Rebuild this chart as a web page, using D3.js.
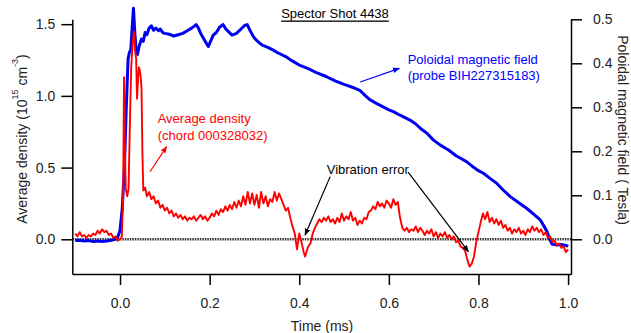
<!DOCTYPE html>
<html>
<head>
<meta charset="utf-8">
<script src="https://cdn.jsdelivr.net/npm/d3@7"></script>
<style>
  body { margin: 0; background: #fff; }
  text { font-family: "Liberation Sans", Arial, sans-serif; }
</style>
</head>
<body>
<div id="chart"></div>
<script>
// Spector shot 4438 - density (left axis) and poloidal field (right axis)

let densityTime = [-0.10,-0.095,-0.09,-0.085,-0.08,-0.075,-0.07,-0.065,-0.06,-0.055,-0.05,-0.045,-0.04,-0.035,-0.03,-0.025,-0.02,-0.015,-0.01,-0.005,
  0.0,0.004,0.007,0.009,0.011,0.013,0.016,0.019,0.022,0.025,0.028,0.031,0.034,0.036,0.038,0.040,0.042,0.044,0.046,0.048,0.050,0.052,0.056,
  0.060,0.065,0.07,0.075,0.08,0.085,0.09,0.095,0.10,0.105,0.11,0.115,0.12,0.125,0.13,0.135,0.14,0.145,0.15,0.155,0.16,0.165,0.17,0.175,
  0.18,0.185,0.19,0.195,0.20,0.205,0.21,0.215,0.22,0.225,0.23,0.235,0.24,0.245,0.25,0.255,0.26,0.265,0.27,0.275,0.28,0.285,0.29,0.295,
  0.30,0.305,0.31,0.315,0.32,0.325,0.33,0.335,0.34,0.345,0.35,0.355,0.36,0.365,0.37,0.375,0.38,0.385,0.39,0.395,0.40,0.405,0.41,0.413,
  0.417,0.42,0.425,0.43,0.435,0.44,0.445,0.45,0.455,0.46,0.465,0.47,0.475,0.48,0.485,0.49,0.495,0.50,0.505,0.51,0.515,0.52,0.525,0.53,
  0.535,0.54,0.545,0.55,0.555,0.56,0.565,0.57,0.575,0.58,0.585,0.59,0.595,0.60,0.605,0.61,0.615,0.62,0.625,0.63,0.635,0.64,0.645,0.65,
  0.655,0.66,0.665,0.67,0.675,0.68,0.685,0.69,0.695,0.70,0.705,0.71,0.715,0.72,0.725,0.73,0.735,0.74,0.745,0.75,0.755,0.76,0.765,0.77,
  0.775,0.78,0.785,0.79,0.795,0.80,0.805,0.81,0.815,0.82,0.825,0.83,0.835,0.84,0.845,0.85,0.855,0.86,0.865,0.87,0.875,0.88,0.885,0.89,
  0.895,0.90,0.905,0.91,0.915,0.92,0.925,0.93,0.935,0.94,0.945,0.95,0.955,0.96,0.965,0.97,0.975,0.98,0.985,0.99,0.995,1.0];

let densityValues = [0.04,0.02,0.05,0.02,0.03,0.01,0.03,0.02,0.04,0.03,0.06,0.04,0.07,0.05,0.06,0.03,0.04,0.01,0.02,-0.01,
  0.0,0.02,0.3,1.13,0.6,0.35,0.3,0.35,0.8,1.2,1.36,1.45,1.3,1.26,0.98,1.1,1.2,1.18,1.14,1.05,0.6,0.34,0.36,
  0.30,0.33,0.28,0.30,0.25,0.27,0.22,0.24,0.20,0.22,0.18,0.20,0.16,0.18,0.15,0.17,0.14,0.16,0.13,0.15,0.14,0.16,0.13,0.15,
  0.17,0.14,0.16,0.13,0.15,0.18,0.16,0.20,0.17,0.21,0.19,0.23,0.20,0.24,0.21,0.26,0.22,0.27,0.23,0.30,0.24,0.33,0.25,0.32,
  0.24,0.31,0.22,0.33,0.25,0.30,0.23,0.28,0.26,0.33,0.27,0.32,0.28,0.24,0.20,0.22,0.15,0.09,0.04,-0.07,0.04,-0.02,-0.09,-0.12,
  -0.08,-0.05,-0.03,0.04,0.08,0.11,0.14,0.12,0.15,0.13,0.16,0.12,0.14,0.11,0.15,0.12,0.18,0.13,0.16,0.14,0.19,0.13,0.15,0.10,
  0.13,0.11,0.15,0.14,0.19,0.20,0.23,0.21,0.26,0.23,0.25,0.22,0.27,0.25,0.22,0.28,0.24,0.26,0.15,0.08,0.06,0.08,0.05,0.07,
  0.06,0.09,0.05,0.08,0.06,0.03,0.06,0.04,0.07,0.02,0.05,0.01,0.04,0.02,0.05,0.01,0.03,0.00,0.02,-0.02,-0.01,-0.05,-0.06,-0.08,
  -0.14,-0.19,-0.17,-0.12,-0.02,0.05,0.12,0.18,0.14,0.19,0.12,0.15,0.11,0.14,0.10,0.13,0.08,0.10,0.06,0.08,0.04,0.07,0.05,0.08,
  0.04,0.06,0.03,0.07,0.05,0.09,0.06,0.08,0.05,0.07,0.03,0.05,0.01,0.02,-0.02,-0.01,-0.04,-0.03,-0.06,-0.05,-0.09,-0.07];

let fieldTime = [-0.10,-0.09,-0.08,-0.07,-0.06,-0.05,-0.04,-0.03,-0.02,-0.01,-0.005,0.0,0.005,0.01,0.014,0.018,0.021,0.024,0.027,0.030,
  0.033,0.036,0.039,0.043,0.048,0.052,0.056,0.06,0.065,0.07,0.075,0.08,0.086,0.09,0.095,0.10,0.11,0.12,0.13,0.14,0.15,0.16,0.17,
  0.175,0.18,0.19,0.197,0.203,0.208,0.215,0.222,0.23,0.236,0.242,0.25,0.26,0.27,0.278,0.284,0.29,0.298,0.305,0.3125,0.32,0.33,
  0.342,0.35,0.36,0.372,0.38,0.39,0.40,0.42,0.44,0.46,0.48,0.50,0.52,0.536,0.548,0.558,0.57,0.585,0.6,0.61,0.625,0.635,0.647,
  0.66,0.673,0.685,0.699,0.715,0.733,0.75,0.762,0.774,0.79,0.8,0.811,0.825,0.841,0.855,0.871,0.89,0.908,0.923,0.938,0.946,
  0.953,0.958,0.964,0.975,0.985,0.997,1.0];

let fieldValues = [-0.003,-0.002,-0.004,-0.003,-0.005,-0.004,-0.005,-0.004,-0.002,0.0,0.005,0.02,0.07,0.17,0.30,0.41,0.425,0.43,0.48,0.525,
  0.47,0.43,0.42,0.44,0.455,0.45,0.47,0.465,0.48,0.485,0.475,0.48,0.474,0.478,0.47,0.468,0.466,0.462,0.465,0.468,0.474,0.48,0.488,
  0.48,0.468,0.45,0.438,0.452,0.464,0.47,0.482,0.488,0.478,0.472,0.464,0.468,0.478,0.486,0.488,0.475,0.46,0.452,0.445,0.44,0.436,
  0.43,0.425,0.42,0.414,0.408,0.402,0.396,0.388,0.378,0.37,0.36,0.352,0.345,0.338,0.326,0.317,0.31,0.302,0.294,0.29,0.282,0.277,0.271,
  0.262,0.25,0.241,0.226,0.214,0.203,0.19,0.183,0.176,0.163,0.156,0.15,0.139,0.127,0.112,0.097,0.083,0.07,0.057,0.044,0.03,
  0.017,0.003,-0.011,-0.013,-0.012,-0.0145,-0.016];

let timeTicks = [0.0, 0.2, 0.4, 0.6, 0.8, 1.0];
let densityTicks = [0.0, 0.5, 1.0, 1.5];
let fieldTicks = [0.0, 0.1, 0.2, 0.3, 0.4, 0.5];

let width = 631, height = 333;

let svg = d3.select("#chart")
  .append("svg")
  .attr("width", width)
  .attr("height", height);

let x = d3.scaleLinear().domain([-0.1065, 1.0065]).range([72.3, 571]);
let yLeft = d3.scaleLinear().domain([-0.242, 1.534]).range([274, 19.3]);
let yRight = d3.scaleLinear().domain([-0.0789, 0.5]).range([274, 19.3]);

// arrow heads
let defs = svg.append("defs");
[["arrBlack", "#000"], ["arrRed", "#f00"], ["arrBlue", "#00f"]].forEach(function(m){
  defs.append("marker")
    .attr("id", m[0])
    .attr("viewBox", "0 0 10 10")
    .attr("refX", 9).attr("refY", 5)
    .attr("markerWidth", 7).attr("markerHeight", 7)
    .attr("markerUnits", "userSpaceOnUse")
    .attr("orient", "auto")
    .append("path")
    .attr("d", "M0,1 L10,5 L0,9 z")
    .attr("fill", m[1]);
});

// zero line (dotted)
svg.append("line")
  .attr("x1", x.range()[0]).attr("x2", x.range()[1])
  .attr("y1", yLeft(0)).attr("y2", yLeft(0))
  .attr("stroke", "#333")
  .attr("stroke-width", 2.5)
  .attr("stroke-dasharray", "1.5,1");

// axes
let xAxis = svg.append("g")
  .attr("transform", "translate(0," + 274 + ")")
  .call(d3.axisBottom(x).tickValues(timeTicks).tickFormat(d3.format(".1f")).tickSize(11).tickSizeOuter(0));

let leftAxis = svg.append("g")
  .attr("transform", "translate(" + 72.3 + ",0)")
  .call(d3.axisLeft(yLeft).tickValues(densityTicks).tickFormat(d3.format(".1f")).tickSize(11).tickSizeOuter(0));

let rightAxis = svg.append("g")
  .attr("transform", "translate(" + 571 + ",0)")
  .call(d3.axisRight(yRight).tickValues(fieldTicks).tickFormat(d3.format(".1f")).tickSize(11).tickSizeOuter(0));

[xAxis, leftAxis, rightAxis].forEach(function(a){
  a.select(".domain").attr("stroke", "#000").attr("stroke-width", 1.5);
  a.selectAll(".tick line").attr("stroke", "#000").attr("stroke-width", 1.5);
  a.selectAll(".tick text")
    .attr("fill", "#222")
    .style("font-size", "14px")
    .style("font-family", "Liberation Sans, Arial, sans-serif");
});
xAxis.selectAll(".tick text").attr("dy", null).attr("y", 29).attr("dominant-baseline", "central");
leftAxis.selectAll(".tick text").attr("x", -17);
rightAxis.selectAll(".tick text").attr("x", 22);

// lines
let densityLine = d3.line()
  .x(function(d, i){ return x(densityTime[i]); })
  .y(function(d){ return yLeft(d); });

let fieldLine = d3.line()
  .x(function(d, i){ return x(fieldTime[i]); })
  .y(function(d){ return yRight(d); });

svg.append("path")
  .datum(fieldValues)
  .attr("fill", "none")
  .attr("stroke", "#0000f0")
  .attr("stroke-width", 3)
  .attr("stroke-linejoin", "round")
  .attr("d", fieldLine);

svg.append("path")
  .datum(densityValues)
  .attr("fill", "none")
  .attr("stroke", "#ff0000")
  .attr("stroke-width", 1.9)
  .attr("stroke-linejoin", "round")
  .attr("d", densityLine);

// titles
svg.append("text")
  .attr("x", 335).attr("y", 13)
  .attr("text-anchor", "middle")
  .attr("dominant-baseline", "central")
  .style("font-size", "13px")
  .style("text-decoration", "underline")
  .text("Spector Shot 4438");

svg.append("text")
  .attr("x", 322).attr("y", 326)
  .attr("text-anchor", "middle")
  .attr("dominant-baseline", "central")
  .attr("fill", "#222")
  .style("font-size", "14px")
  .text("Time (ms)");

let leftTitle = svg.append("text")
  .attr("transform", "translate(22,139) rotate(-90)")
  .attr("text-anchor", "middle")
  .attr("dominant-baseline", "central")
  .attr("fill", "#222")
  .style("font-size", "14px");
leftTitle.append("tspan").text("Average density (10");
leftTitle.append("tspan").attr("dy", -7).style("font-size", "9px").text("15");
leftTitle.append("tspan").attr("dy", 7).text(" cm");
leftTitle.append("tspan").attr("dy", -7).style("font-size", "9px").text("-3");
leftTitle.append("tspan").attr("dy", 7).text(")");

svg.append("text")
  .attr("transform", "translate(623,130) rotate(90)")
  .attr("text-anchor", "middle")
  .attr("dominant-baseline", "central")
  .attr("fill", "#222")
  .style("font-size", "14px")
  .text("Poloidal magnetic field ( Tesla)");

// annotations
function note(px, py, lines, color){
  lines.forEach(function(s, i){
    svg.append("text")
      .attr("x", px).attr("y", py[i])
      .attr("dominant-baseline", "central")
      .attr("fill", color)
      .style("font-size", "13px")
      .text(s);
  });
}

function arrow(x1, y1, x2, y2, color, marker){
  svg.append("line")
    .attr("x1", x1).attr("y1", y1)
    .attr("x2", x2).attr("y2", y2)
    .attr("stroke", color)
    .attr("stroke-width", 1.2)
    .attr("marker-end", "url(#" + marker + ")");
}

note(x(0.084), [yLeft(0.844), yLeft(0.727)], ["Average density", "(chord 000328032)"], "#f00");
arrow(x(0.067), yLeft(0.471), x(0.104), yLeft(0.646), "#f00", "arrRed");

note(x(0.642), [yRight(0.4075), yRight(0.3734)], ["Poloidal magnetic field", "(probe BIH227315183)"], "#00f");
arrow(x(0.536), yRight(0.3575), x(0.6235), yRight(0.3886), "#00f", "arrBlue");

svg.append("text")
  .attr("x", x(0.553)).attr("y", yLeft(0.49))
  .attr("text-anchor", "middle")
  .attr("dominant-baseline", "central")
  .style("font-size", "13px")
  .text("Vibration error");
arrow(x(0.469), yLeft(0.437), x(0.413), yLeft(0.03), "#000", "arrBlack");
arrow(x(0.643), yLeft(0.469), x(0.7775), yLeft(-0.086), "#000", "arrBlack");
</script>
</body>
</html>
